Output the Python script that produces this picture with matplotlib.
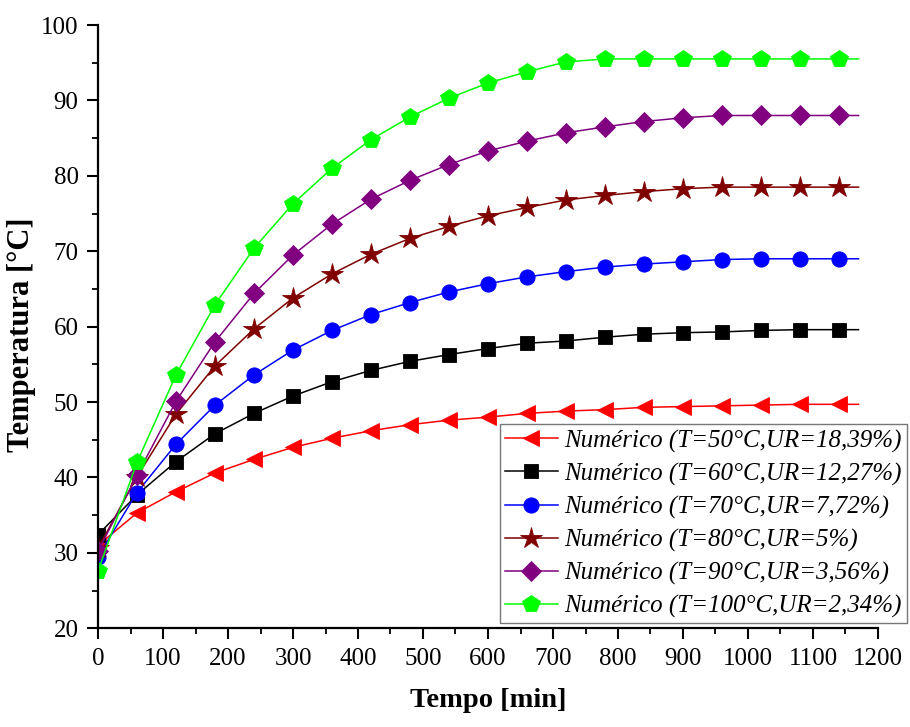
import matplotlib
matplotlib.use("Agg")
import matplotlib.pyplot as plt
import numpy as np

# Time axis [min]: outputs every 60 min, last point closes the curves
tempo = [0, 60, 120, 180, 240, 300, 360, 420, 480, 540, 600, 660, 720,
         780, 840, 900, 960, 1020, 1080, 1140, 1170]

t50 = [31.0, 35.3, 38.1, 40.6, 42.4, 44.0, 45.2, 46.2, 47.0, 47.6, 48.0,
       48.5, 48.8, 49.0, 49.3, 49.4, 49.5, 49.6, 49.7, 49.7, 49.7]
t60 = [32.4, 37.7, 42.1, 45.8, 48.5, 50.8, 52.7, 54.2, 55.4, 56.3, 57.1,
       57.8, 58.1, 58.6, 59.0, 59.2, 59.3, 59.5, 59.6, 59.6, 59.6]
t70 = [29.5, 38.0, 44.4, 49.6, 53.6, 56.9, 59.5, 61.6, 63.2, 64.6, 65.7,
       66.6, 67.3, 67.9, 68.3, 68.6, 68.9, 69.0, 69.0, 69.0, 69.0]
t80 = [30.6, 40.1, 48.4, 54.8, 59.7, 63.8, 67.0, 69.6, 71.7, 73.3, 74.7,
       75.8, 76.8, 77.4, 77.9, 78.3, 78.5, 78.5, 78.5, 78.5, 78.5]
t90 = [30.2, 40.3, 50.1, 58.0, 64.4, 69.5, 73.6, 76.9, 79.4, 81.5, 83.3,
       84.6, 85.7, 86.5, 87.2, 87.7, 88.0, 88.0, 88.0, 88.0, 88.0]
t100 = [27.6, 42.0, 53.6, 62.9, 70.4, 76.3, 81.0, 84.8, 87.8, 90.3, 92.3,
        93.8, 95.1, 95.5, 95.5, 95.5, 95.5, 95.5, 95.5, 95.5, 95.5]

rotulos = [
    "Numérico (T=50°C,UR=18,39%)",
    "Numérico (T=60°C,UR=12,27%)",
    "Numérico (T=70°C,UR=7,72%)",
    "Numérico (T=80°C,UR=5%)",
    "Numérico (T=90°C,UR=3,56%)",
    "Numérico (T=100°C,UR=2,34%)",
]
series = [t50, t60, t70, t80, t90, t100]
cores = ["#ff0000", "#000000", "#0000ff", "#800000", "#800080", "#00ff00"]
marcadores = ["<", "s", "o", "*", "D", "p"]
tamanhos = [12, 10, 11, 16, 10, 13]

plt.rcParams["font.family"] = ["Liberation Serif", "DejaVu Serif"]

fig = plt.figure(figsize=(9.10, 7.27), dpi=100)
ax = fig.add_axes([98 / 910, 1 - 628.3 / 727, (878 - 98) / 910, (628.3 - 25) / 727])

marcas = list(range(len(tempo) - 1))
for y, c, m, s, lab in zip(series, cores, marcadores, tamanhos, rotulos):
    ax.plot(tempo, y, color=c, lw=1.1, marker=m, ms=s, markevery=marcas,
            markeredgecolor=c, markeredgewidth=0.6, label=lab)

ax.set_xlim(0, 1200)
ax.set_ylim(20, 100)
ax.set_xticks(np.arange(0, 1201, 100))
ax.set_xticks(np.arange(50, 1200, 100), minor=True)
ax.set_yticks(np.arange(20, 101, 10))
ax.set_yticks(np.arange(25, 100, 10), minor=True)

for s in ("top", "right"):
    ax.spines[s].set_visible(False)
for s in ("left", "bottom"):
    ax.spines[s].set_linewidth(1.6)

ax.tick_params(which="major", direction="out", length=8, width=1.5,
               labelsize=18, pad=6)
ax.tick_params(which="minor", direction="out", length=4.5, width=1.3)

ax.set_xlabel("Tempo [min]", fontsize=20.5, fontweight="bold", labelpad=13)
ax.set_ylabel("Temperatura [°C]", fontsize=22, fontweight="bold")
ax.yaxis.set_label_coords(-0.079, 0.486)

leg = ax.legend(loc="lower right", bbox_to_anchor=(907 / 910, 1 - 623 / 727),
                bbox_transform=fig.transFigure, borderaxespad=0,
                prop={"family": ["Liberation Serif"], "style": "italic", "size": 18},
                handlelength=2.15, handletextpad=0.25, labelspacing=0.4,
                borderpad=0.2, fancybox=False, framealpha=1, edgecolor="#777777")
leg.get_frame().set_linewidth(1.0)

fig.savefig("out.png", dpi=100)
